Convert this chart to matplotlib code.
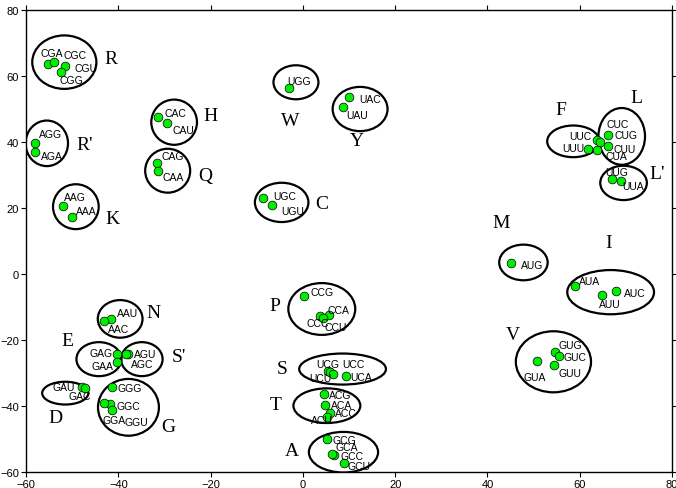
import matplotlib
matplotlib.use("Agg")
import matplotlib.pyplot as plt
from matplotlib.patches import Ellipse

# codon positions (2D embedding)
codons = ["CGA", "CGC", "CGU", "CGG",
          "CAC", "CAU", "AGG", "AGA", "CAG", "CAA", "AAG", "AAA",
          "AAU", "AAC", "GAG", "GAA", "AGU", "AGC", "GAU", "GAC",
          "GGG", "GGC", "GGA", "GGU",
          "UGG", "UAC", "UAU", "UGC", "UGU",
          "CCG", "CCA", "CCC", "CCU",
          "UCG", "UCC", "UCU", "UCA",
          "ACG", "ACA", "ACC", "ACU",
          "GCG", "GCA", "GCC", "GCU",
          "UUC", "UUU", "CUC", "CUG", "CUU", "CUA", "UUG", "UUA",
          "AUG", "AUA", "AUU", "AUC",
          "GUA", "GUG", "GUC", "GUU"]
codon_x = [-55.3, -53.9, -51.5, -52.5,
           -31.3, -29.5, -58.0, -58.0, -31.7, -31.5, -52.0, -50.0,
           -41.6, -43.1, -40.3, -40.3, -37.8, -38.4, -47.8, -47.2,
           -41.3, -41.8, -43.2, -41.3,
           -2.9, 9.9, 8.6, -8.6, -6.7,
           0.25, 5.7, 3.7, 4.3,
           5.4, 5.9, 6.5, 9.3,
           4.6, 4.8, 5.9, 5.3,
           5.2, 6.8, 6.3, 9.0,
           63.7, 61.9, 64.4, 66.1, 66.1, 63.8, 67.1, 69.0,
           45.1, 58.9, 64.9, 67.8,
           50.7, 54.7, 55.5, 54.4]
codon_y = [63.6, 64.2, 63.1, 61.3,
           47.5, 45.8, 39.6, 37.0, 33.6, 31.1, 20.5, 17.4,
           -13.6, -14.2, -24.2, -26.8, -24.2, -24.2, -34.1, -34.6,
           -34.1, -39.4, -39.2, -41.1,
           56.3, 53.5, 50.7, 22.9, 20.9,
           -6.6, -12.4, -12.6, -13.4,
           -29.3, -29.6, -30.3, -31.0,
           -36.4, -39.7, -42.1, -43.2,
           -50.0, -54.7, -54.5, -57.3,
           40.6, 37.9, 40.1, 42.1, 38.7, 37.6, 28.8, 28.3,
           3.3, -3.7, -6.3, -5.2,
           -26.5, -23.5, -24.8, -27.6]
# where each codon name is written
label_x = [-54.4, -49.4, -47.1, -50.1,
           -27.7, -25.9, -54.7, -54.3, -28.1, -28.1, -49.4, -47.0,
           -38.1, -40.0, -43.8, -43.4, -34.2, -34.9, -51.8, -48.4,
           -37.6, -37.8, -40.9, -36.0,
           -0.8, 14.6, 11.7, -4.0, -2.2,
           4.1, 7.8, 3.2, 7.1,
           5.3, 10.9, 3.7, 12.7,
           8.2, 8.4, 9.3, 4.2,
           9.1, 9.6, 10.6, 12.2,
           60.2, 58.6, 68.3, 70.0, 69.8, 68.0, 68.0, 71.6,
           49.6, 62.2, 66.6, 72.0,
           50.3, 58.0, 59.0, 57.9]
label_y = [67.0, 66.4, 62.4, 58.8,
           48.7, 43.6, 42.4, 35.8, 35.8, 29.5, 23.4, 19.2,
           -11.8, -16.7, -24.0, -28.0, -24.2, -27.3, -34.1, -37.1,
           -34.5, -40.1, -44.2, -44.9,
           58.6, 53.0, 48.2, 23.7, 19.2,
           -5.5, -10.8, -14.8, -16.2,
           -27.3, -27.3, -31.5, -31.3,
           -36.7, -39.7, -42.1, -44.2,
           -50.2, -52.5, -55.0, -58.1,
           41.7, 38.1, 45.5, 42.1, 37.9, 35.7, 31.0, 26.6,
           2.7, -2.0, -9.1, -5.8,
           -31.3, -21.5, -25.2, -30.0]

# amino-acid groups: ellipse centre / size and letter position
aa_names = ["R", "H", "R'", "Q", "K", "N", "E", "S'", "D", "G",
            "W", "Y", "C", "P", "S", "T", "A", "F", "L", "L'", "M", "I", "V"]
ell_x = [-51.7, -27.9, -55.5, -29.3, -49.2, -39.6, -44.2, -34.9, -51.5, -37.8,
         -1.5, 12.4, -4.6, 4.1, 8.6, 5.2, 8.8, 58.6, 69.1, 69.5, 47.8, 66.7, 54.3]
ell_y = [64.2, 46.0, 39.6, 31.3, 20.4, -13.6, -25.8, -25.8, -36.1, -40.4,
         58.1, 50.0, 21.7, -10.6, -28.8, -39.9, -54.0, 40.2, 41.7, 27.6, 3.5, -5.5, -26.6]
ell_w = [13.9, 9.9, 9.2, 9.75, 9.9, 9.7, 9.75, 9.0, 10.0, 13.2,
         9.75, 11.9, 11.6, 14.5, 18.8, 14.5, 15.0, 11.3, 10.1, 10.1, 10.5, 18.8, 16.3]
ell_h = [16.2, 13.7, 13.8, 13.3, 13.6, 11.4, 10.3, 10.3, 6.9, 17.2,
         10.3, 13.4, 11.9, 15.7, 9.4, 10.5, 12.3, 9.6, 17.2, 10.4, 10.8, 13.4, 18.5]
aa_x = [-41.6, -20.1, -47.2, -21.2, -41.3, -32.4, -51.0, -26.8, -53.6, -29.2,
        -2.8, 11.7, 4.1, -6.0, -4.4, -5.8, -2.4, 55.9, 72.3, 76.7, 42.9, 66.2, 45.5]
aa_y = [65.2, 48.0, 39.2, 29.8, 16.9, -11.6, -20.2, -25.1, -43.4, -46.2,
        46.5, 40.4, 21.5, -9.4, -28.6, -39.4, -53.5, 49.8, 53.5, 30.6, 15.5, 9.6, -18.2]

fig = plt.figure(figsize=(6.76, 4.89), dpi=100)
ax = fig.add_axes([0.0385, 0.0327, 0.9556, 0.9448])

for cx, cy, w, h in zip(ell_x, ell_y, ell_w, ell_h):
    ax.add_patch(Ellipse((cx, cy), w, h, fill=False, ec="black", lw=1.6, zorder=2))

ax.plot(codon_x, codon_y, "o", ms=6.3, mfc="#00ee00", mec="black", mew=0.5,
        zorder=3, ls="none")

for name, lx, ly in zip(codons, label_x, label_y):
    ax.text(lx, ly, name, ha="center", va="center", fontsize=7.5,
            family="Liberation Sans", zorder=4)

for name, tx, ty in zip(aa_names, aa_x, aa_y):
    ax.text(tx, ty, name, ha="center", va="center", fontsize=14,
            family="Liberation Serif", zorder=4)

ax.set_xlim(-60, 80)
ax.set_ylim(-60, 80)
ax.set_xticks(range(-60, 81, 20))
ax.set_yticks(range(-60, 81, 20))
ax.tick_params(direction="out", length=3.5, width=0.8, labelsize=8, pad=1.5,
               top=True, right=True)
for lab in ax.get_xticklabels() + ax.get_yticklabels():
    lab.set_family("Liberation Sans")
for sp in ax.spines.values():
    sp.set_linewidth(1.0)

fig.savefig("out.png", dpi=100)
